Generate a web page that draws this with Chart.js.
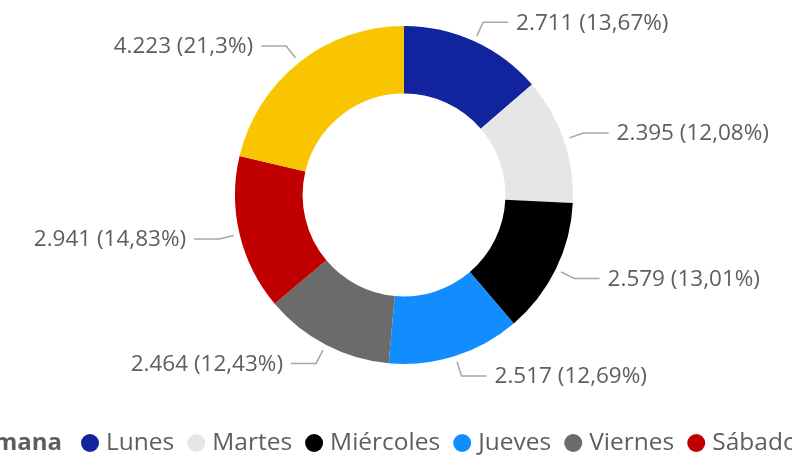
<!DOCTYPE html>
<html>
<head>
<meta charset="utf-8">
<script src="https://cdn.jsdelivr.net/npm/chart.js@4.4.1/dist/chart.umd.min.js"></script>
<style>
  html, body { margin: 0; padding: 0; background: #ffffff; }
  #wrap { width: 792px; height: 458px; position: relative; }
</style>
</head>
<body>
<div id="wrap"><canvas id="c"></canvas></div>
<script>
const categories = ['Lunes', 'Martes', 'Miércoles', 'Jueves', 'Viernes', 'Sábado', 'Domingo'];
const values = [2711, 2395, 2579, 2517, 2464, 2941, 4223];
const legendTitle = 'Día de la semana';

const sliceColors = ['#12239E', '#E6E6E6', '#000000', '#118DFF', '#6B6B6B', '#C00000', '#F8C500'];
const FONT = '"Open Sans", "Noto Sans", sans-serif';
const TEXT = '#605E5C';

function fmtValue(v) {
  return v.toString().replace(/\B(?=(\d{3})+(?!\d))/g, '.');
}
function fmtPct(v, total) {
  let p = (v / total * 100).toFixed(2);
  p = p.replace(/0+$/, '').replace(/\.$/, '');
  return p.replace('.', ',') + '%';
}

const labelPlugin = {
  id: 'leaderLabels',
  afterDatasetsDraw(chart) {
    const ctx = chart.ctx;
    const meta = chart.getDatasetMeta(0);
    const data = chart.data.datasets[0].data;
    const total = data.reduce((a, b) => a + b, 0);
    ctx.save();
    ctx.font = '22.5px ' + FONT;
    ctx.textBaseline = 'middle';
    meta.data.forEach((arc, i) => {
      const p = arc.getProps(['x', 'y', 'startAngle', 'endAngle', 'outerRadius'], true);
      const mid = (p.startAngle + p.endAngle) / 2;
      const c = Math.cos(mid), s = Math.sin(mid);
      const r0 = p.outerRadius + 6, r1 = p.outerRadius + 21;
      const x0 = p.x + r0 * c, y0 = p.y + r0 * s;
      const x1 = p.x + r1 * c, y1 = p.y + r1 * s;
      const dir = c >= 0 ? 1 : -1;
      const x2 = x1 + dir * 25;
      ctx.strokeStyle = '#A6A6A6';
      ctx.lineWidth = 1.5;
      ctx.beginPath();
      ctx.moveTo(x0, y0);
      ctx.lineTo(x1, y1);
      ctx.lineTo(x2, y1);
      ctx.stroke();
      ctx.fillStyle = TEXT;
      ctx.textAlign = dir > 0 ? 'left' : 'right';
      const txt = fmtValue(data[i]) + ' (' + fmtPct(data[i], total) + ')';
      ctx.fillText(txt, x2 + dir * 8, y1 + 1);
    });
    ctx.restore();
  }
};

const legendPlugin = {
  id: 'customLegend',
  afterDraw(chart) {
    const ctx = chart.ctx;
    const y = 443;
    ctx.save();
    ctx.textBaseline = 'middle';
    ctx.font = 'bold 24px ' + FONT;
    ctx.fillStyle = TEXT;
    ctx.textAlign = 'right';
    ctx.fillText(legendTitle, 62, y);
    ctx.textAlign = 'left';
    let x = 62 + 19;
    ctx.font = '24.5px ' + FONT;
    const bg = chart.data.datasets[0].backgroundColor;
    chart.data.labels.forEach((lab, i) => {
      ctx.fillStyle = bg[i];
      ctx.beginPath();
      ctx.arc(x + 9, y, 9, 0, Math.PI * 2);
      ctx.fill();
      ctx.fillStyle = TEXT;
      ctx.fillText(lab, x + 25, y);
      x += 25 + ctx.measureText(lab).width + 13;
    });
    ctx.restore();
  }
};

new Chart(document.getElementById('c'), {
  type: 'doughnut',
  data: {
    labels: categories,
    datasets: [{
      data: values,
      backgroundColor: sliceColors,
      borderWidth: 0,
      hoverOffset: 0
    }]
  },
  options: {
    responsive: true,
    maintainAspectRatio: false,
    animation: false,
    cutout: '60%',
    layout: { padding: { top: 26, bottom: 94, left: 235, right: 219 } },
    plugins: {
      legend: { display: false },
      tooltip: { enabled: false }
    }
  },
  plugins: [labelPlugin, legendPlugin]
});
</script>
</body>
</html>
